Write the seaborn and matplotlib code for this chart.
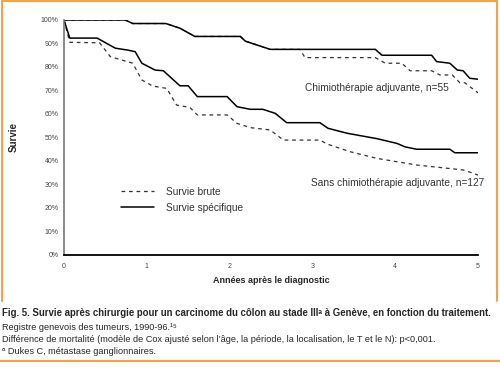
import matplotlib
matplotlib.use("Agg")
import matplotlib.pyplot as plt
import seaborn as sns
from matplotlib.lines import Line2D

# courbes de survie (annees, %)
chemo_spec_x = [0, 0.74, 0.83, 1.23, 1.40, 1.58, 2.13, 2.19, 2.49, 3.76, 3.84, 4.44, 4.50, 4.66, 4.75, 4.82, 4.90, 5.0]
chemo_spec_y = [100, 100, 98.5, 98.5, 96.5, 93, 93, 91, 87.5, 87.5, 85, 85, 82.3, 81.6, 78.7, 78.4, 75.2, 74.8]

chemo_brute_x = [0, 0.74, 0.83, 1.23, 1.40, 1.58, 2.13, 2.19, 2.49, 2.85, 2.91, 3.76, 3.88, 4.08, 4.18, 4.44, 4.54, 4.69, 4.78, 4.84, 5.0]
chemo_brute_y = [100, 100, 98.5, 98.5, 96.5, 93, 93, 91, 87.5, 87.5, 84, 84, 81.6, 81.6, 78.4, 78.4, 76.6, 76.6, 73.3, 73.3, 69]

sans_spec_x = [0, 0.07, 0.40, 0.62, 0.77, 0.86, 0.94, 1.10, 1.20, 1.40, 1.50, 1.61, 1.97, 2.09, 2.25, 2.40, 2.55, 2.69,
               3.09, 3.19, 3.42, 3.78, 4.02, 4.12, 4.26, 4.66, 4.72, 5.0]
sans_spec_y = [100, 92.3, 92.3, 88, 87.2, 86.5, 81.6, 78.7, 78.4, 72, 72, 67.4, 67.4, 63.1, 62, 62, 60.3, 56.3,
               56.3, 53.9, 51.8, 49.5, 47.5, 46, 45, 45, 43.5, 43.5]

sans_brute_x = [0, 0.07, 0.43, 0.56, 0.83, 0.94, 1.07, 1.24, 1.36, 1.52, 1.61, 1.97, 2.09, 2.25, 2.49, 2.65,
                3.09, 3.18, 3.45, 3.78, 4.02, 4.26, 4.63, 4.82, 4.94, 5.0]
sans_brute_y = [100, 90.5, 90.3, 84.4, 81.6, 74.5, 71.9, 70.9, 63.8, 62.8, 59.6, 59.6, 56, 54.2, 53.2, 48.9,
                48.9, 47.2, 44, 41.1, 39.7, 38.3, 36.9, 36.2, 34.8, 34]

y_ticks = [0, 10, 20, 30, 40, 50, 60, 70, 80, 90, 100]
y_labels = [f"{t}%" for t in y_ticks]
x_ticks = [0, 1, 2, 3, 4, 5]

sns.set_style("white")
plt.rcParams['font.family'] = ['Liberation Sans', 'DejaVu Sans']

fig = plt.figure(figsize=(5, 3.71), dpi=100)
ax = fig.add_axes([0.128, 0.3127, 0.828, 0.6334])

# courbes brutes en pointilles, specifiques en trait plein
sns.lineplot(x=sans_brute_x, y=sans_brute_y, ax=ax, sort=False, estimator=None, color="#333333", linewidth=0.9)
ax.lines[-1].set_dashes((3, 3))
sns.lineplot(x=chemo_brute_x, y=chemo_brute_y, ax=ax, sort=False, estimator=None, color="#333333", linewidth=0.9)
ax.lines[-1].set_dashes((3, 3))
sns.lineplot(x=sans_spec_x, y=sans_spec_y, ax=ax, sort=False, estimator=None, color="black", linewidth=1.1)
sns.lineplot(x=chemo_spec_x, y=chemo_spec_y, ax=ax, sort=False, estimator=None, color="black", linewidth=1.1)

ax.set_xlim(0, 5)
ax.set_ylim(0, 100)
ax.set_xticks(x_ticks)
ax.set_yticks(y_ticks)
ax.set_yticklabels(y_labels)
ax.tick_params(axis="both", labelsize=5, colors="#444444", direction="inout", length=4, width=0.8, pad=2)
ax.tick_params(axis="x", pad=4)
for s in ["top", "right"]:
    ax.spines[s].set_visible(False)
ax.spines["left"].set_color("#777777")
ax.spines["left"].set_linewidth(1.2)
ax.spines["bottom"].set_color("black")
ax.spines["bottom"].set_linewidth(1.3)
ax.grid(False)

ax.set_ylabel("Survie", fontsize=7, fontweight="bold", labelpad=16)
ax.set_xlabel("Années après le diagnostic", fontsize=6.5, fontweight="bold", labelpad=4)

ax.text(4.65, 71.2, "Chimiothérapie adjuvante, n=55", fontsize=7.3, ha="right", va="center", color="#333333")
ax.text(5.08, 30.5, "Sans chimiothérapie adjuvante, n=127", fontsize=7.3, ha="right", va="center", color="#333333")

# legende
legend_handles = [Line2D([], [], color="#333333", linewidth=0.9, dashes=(3, 3)),
                  Line2D([], [], color="black", linewidth=1.1)]
ax.legend(legend_handles, ["Survie brute", "Survie spécifique"], loc="upper left",
          bbox_to_anchor=(0.115, 0.33), frameon=False, fontsize=7.3, handlelength=3.3,
          handletextpad=1.2, labelspacing=0.6, labelcolor="#333333")

# cadre orange
orange = "#F5A24C"
fig.add_artist(Line2D([0.003, 0.003], [1 - 301 / 371, 0.998], color=orange, linewidth=1.5))
fig.add_artist(Line2D([0.994, 0.994], [1 - 301 / 371, 0.998], color=orange, linewidth=1.5))
fig.add_artist(Line2D([0.003, 0.994], [0.997, 0.997], color=orange, linewidth=1.5))
fig.add_artist(Line2D([0.0, 1.0], [1 - 361 / 371, 1 - 361 / 371], color=orange, linewidth=1.5))

cap = ['Liberation Sans', 'DejaVu Sans']
fig.text(0.004, 1 - 313 / 371, "Fig. 5. Survie après chirurgie pour un carcinome du côlon au stade IIIᵃ à Genève, en fonction du traitement.",
         fontsize=6.9, fontweight="bold", family=cap, va="center", ha="left")
fig.text(0.004, 1 - 327 / 371, "Registre genevois des tumeurs, 1990-96.¹⁵", fontsize=6.55, family=cap, va="center")
fig.text(0.004, 1 - 339 / 371, "Différence de mortalité (modèle de Cox ajusté selon l’âge, la période, la localisation, le T et le N): p<0,001.",
         fontsize=6.55, family=cap, va="center")
fig.text(0.004, 1 - 351 / 371, "ᵃ Dukes C, métastase ganglionnaires.", fontsize=6.55, family=cap, va="center")

fig.savefig("out.png", dpi=100)
